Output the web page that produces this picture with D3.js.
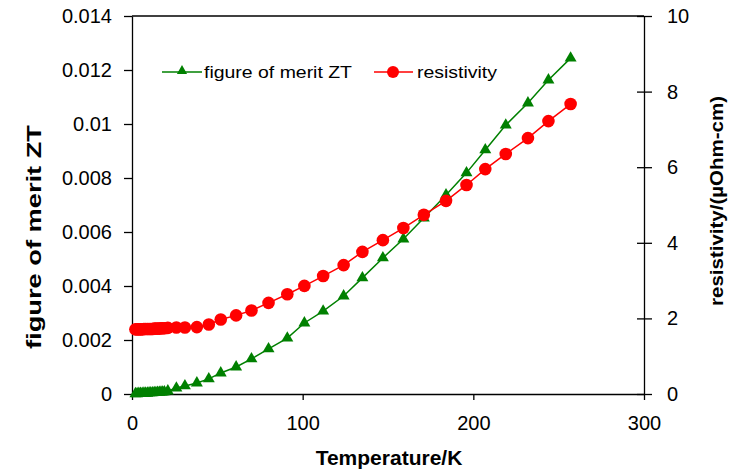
<!DOCTYPE html>
<html>
<head>
<meta charset="utf-8">
<script src="https://cdn.jsdelivr.net/npm/d3@7"></script>
<style>
  body { margin: 0; background: #fff; }
  text { font-family: "Liberation Sans", Arial, sans-serif; fill: #000; }
</style>
</head>
<body>
<svg id="chart" width="740" height="471"></svg>
<script>
// temperature (K), same for both series
var temps = [2, 3, 4, 5, 6, 7, 8, 9, 10, 11, 12, 13, 14, 15, 16, 17, 18, 19,
  21, 26, 31, 38, 45, 52, 61, 70, 80, 91, 101, 112, 124, 135, 147, 159, 171,
  184, 196, 207, 219, 232, 244, 257];

// figure of merit ZT (left axis)
var ztValues = [0.00001, 0.00001, 0.00002, 0.00002, 0.00002, 0.00003, 0.00003,
  0.00003, 0.00004, 0.00004, 0.00004, 0.00005, 0.00005, 0.00006, 0.00006,
  0.00007, 0.00007, 0.00008,
  0.00011, 0.00022, 0.00030, 0.00041, 0.00056, 0.00078, 0.00100, 0.00130,
  0.00167, 0.00207, 0.00263, 0.00307, 0.00363, 0.00430, 0.00504, 0.00574,
  0.00652, 0.00737, 0.00819, 0.00904, 0.00996, 0.01078, 0.01163, 0.01244];

// resistivity in uOhm-cm (right axis)
var resValues = [1.71, 1.71, 1.71, 1.71, 1.71, 1.72, 1.72, 1.72, 1.72, 1.72,
  1.72, 1.73, 1.73, 1.73, 1.73, 1.74, 1.74, 1.74,
  1.75, 1.76, 1.76, 1.77, 1.84, 1.97, 2.08, 2.21, 2.41, 2.64, 2.86, 3.12,
  3.41, 3.76, 4.07, 4.39, 4.74, 5.11, 5.53, 5.95, 6.35, 6.77, 7.22, 7.67];

var xTicks = [0, 100, 200, 300];
var leftTicks = [0, 0.002, 0.004, 0.006, 0.008, 0.01, 0.012, 0.014];
var leftTickLabels = ["0", "0.002", "0.004", "0.006", "0.008", "0.01", "0.012", "0.014"];
var rightTicks = [0, 2, 4, 6, 8, 10];

// plot box
var pLeft = 132, pRight = 644, pTop = 16, pBottom = 394;
var green = "#008000", red = "#ff0000";

var svg = d3.select("#chart");

var x = d3.scaleLinear().domain([0, 300]).range([pLeft, pRight]);
var yL = d3.scaleLinear().domain([0, 0.014]).range([pBottom, pTop]);
var yR = d3.scaleLinear().domain([0, 10]).range([pBottom, pTop]);

// top frame line
svg.append("line")
  .attr("x1", pLeft).attr("x2", pRight)
  .attr("y1", pTop).attr("y2", pTop)
  .attr("stroke", "#000").attr("stroke-width", 1.3);

// axes
var gx = svg.append("g")
  .attr("transform", "translate(0," + pBottom + ")")
  .call(d3.axisBottom(x).tickValues(xTicks).tickSize(6).tickSizeOuter(0).tickPadding(16));

var gl = svg.append("g")
  .attr("transform", "translate(" + pLeft + ",0)")
  .call(d3.axisLeft(yL).tickValues(leftTicks).tickSize(8).tickSizeOuter(0).tickPadding(12)
    .tickFormat(function(d, i){ return leftTickLabels[i]; }));

var gr = svg.append("g")
  .attr("transform", "translate(" + pRight + ",0)")
  .call(d3.axisRight(yR).tickValues(rightTicks).tickSize(8).tickSizeOuter(0).tickPadding(15));
// right ticks cross the axis
gr.selectAll(".tick line").attr("x1", -7);

[gx, gl, gr].forEach(function(g){
  g.select(".domain").attr("stroke", "#000").attr("stroke-width", 1.3);
  g.selectAll(".tick line").attr("stroke", "#000").attr("stroke-width", 1.3);
  g.selectAll(".tick text")
    .style("font-family", '"Liberation Sans", Arial, sans-serif')
    .style("font-size", "20px");
});

// series
var ztData = temps.map(function(t, i){ return {t: t, v: ztValues[i]}; });
var resData = temps.map(function(t, i){ return {t: t, v: resValues[i]}; });

var ztLine = d3.line().x(function(d){ return x(d.t); }).y(function(d){ return yL(d.v); });
var resLine = d3.line().x(function(d){ return x(d.t); }).y(function(d){ return yR(d.v); });

svg.append("path").datum(ztData)
  .attr("d", ztLine).attr("fill", "none")
  .attr("stroke", green).attr("stroke-width", 1.5);

var tri = d3.symbol().type(d3.symbolTriangle).size(62);
svg.selectAll(".zt").data(ztData).enter().append("path")
  .attr("class", "zt")
  .attr("d", tri)
  .attr("transform", function(d){ return "translate(" + x(d.t) + "," + yL(d.v) + ")"; })
  .attr("fill", green);

svg.append("path").datum(resData)
  .attr("d", resLine).attr("fill", "none")
  .attr("stroke", red).attr("stroke-width", 1.5);

svg.selectAll(".res").data(resData).enter().append("circle")
  .attr("class", "res")
  .attr("cx", function(d){ return x(d.t); })
  .attr("cy", function(d){ return yR(d.v); })
  .attr("r", 6.3)
  .attr("fill", red);

// legend
var leg = svg.append("g");
leg.append("line").attr("x1", 162).attr("x2", 202).attr("y1", 72).attr("y2", 72)
  .attr("stroke", green).attr("stroke-width", 1.5);
leg.append("path").attr("d", d3.symbol().type(d3.symbolTriangle).size(45))
  .attr("transform", "translate(182,71)").attr("fill", green);
leg.append("text").attr("x", 204).attr("y", 78)
  .attr("font-size", 17).attr("textLength", 148).attr("lengthAdjust", "spacingAndGlyphs")
  .text("figure of merit ZT");
leg.append("line").attr("x1", 374).attr("x2", 413).attr("y1", 72).attr("y2", 72)
  .attr("stroke", red).attr("stroke-width", 1.5);
leg.append("circle").attr("cx", 393).attr("cy", 72).attr("r", 6).attr("fill", red);
leg.append("text").attr("x", 417).attr("y", 78)
  .attr("font-size", 17).attr("textLength", 80).attr("lengthAdjust", "spacingAndGlyphs")
  .text("resistivity");

// axis titles
svg.append("text")
  .attr("x", 389).attr("y", 465)
  .attr("text-anchor", "middle")
  .attr("font-size", 21).attr("font-weight", "bold")
  .text("Temperature/K");

svg.append("text")
  .attr("transform", "translate(41,237) rotate(-90)")
  .attr("text-anchor", "middle")
  .attr("font-size", 20).attr("font-weight", "bold")
  .attr("textLength", 224).attr("lengthAdjust", "spacingAndGlyphs")
  .text("figure of merit ZT");

svg.append("text")
  .attr("transform", "translate(723,201) rotate(-90)")
  .attr("text-anchor", "middle")
  .attr("font-size", 19).attr("font-weight", "bold")
  .attr("textLength", 210).attr("lengthAdjust", "spacingAndGlyphs")
  .text("resistivity/(\u00b5Ohm-cm)");
</script>
</body>
</html>
